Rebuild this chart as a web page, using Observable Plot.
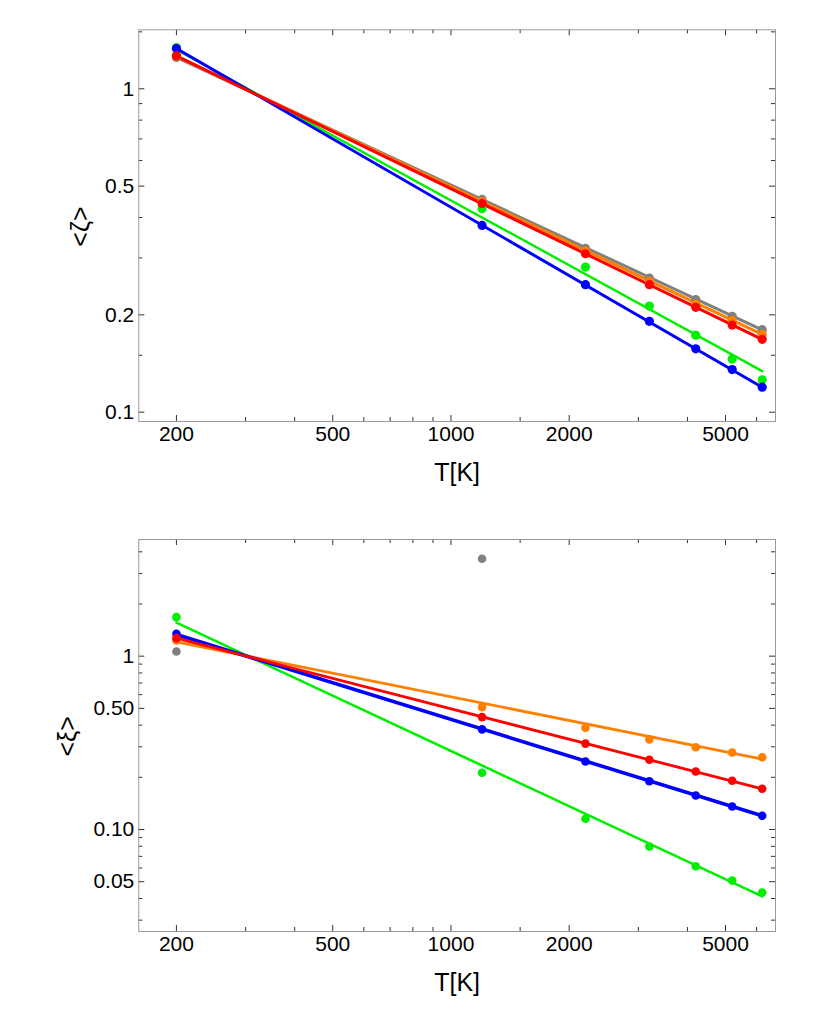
<!DOCTYPE html>
<html><head><meta charset="utf-8">
<script src="https://cdn.jsdelivr.net/npm/d3@7"></script>
<script src="https://cdn.jsdelivr.net/npm/@observablehq/plot@0.6"></script>
<style>
body{margin:0;background:#fff;font-family:"Liberation Sans",Arial,sans-serif}
svg{display:block}
</style>
</head><body><div id="c"></div>
<script>
// ---- data ----
const T = [200, 1200, 2200, 3200, 4200, 5200, 6200];
const fitT = [200, 6200];

// top panel <ζ>
const zetaGray   = [1.25, 0.455, 0.321, 0.260, 0.223, 0.198, 0.180];
const zetaOrange = [1.26, 0.448, 0.315, 0.254, 0.216, 0.192, 0.174];
const zetaRed    = [1.265, 0.442, 0.309, 0.248, 0.211, 0.186, 0.168];
const zetaGreen  = [1.34, 0.426, 0.281, 0.213, 0.173, 0.146, 0.126];
const zetaBlue   = [1.332, 0.378, 0.248, 0.191, 0.157, 0.1355, 0.1195];
const zetaFitGray   = [1.251, 0.1798];
const zetaFitOrange = [1.26, 0.174];
const zetaFitRed    = [1.265, 0.168];
const zetaFitGreen  = [1.32, 0.134];
const zetaFitBlue   = [1.332, 0.1195];

// bottom panel <ξ>
const xiGrayT  = [200, 1200];
const xiGray   = [1.064, 3.65];
const xiOrange = [1.232, 0.508, 0.386, 0.331, 0.2985, 0.278, 0.261];
const xiRed    = [1.27, 0.445, 0.313, 0.2525, 0.216, 0.191, 0.1717];
const xiBlue   = [1.347, 0.378, 0.247, 0.190, 0.157, 0.1357, 0.120];
const xiGreen  = [1.679, 0.2124, 0.1153, 0.0798, 0.0614, 0.0508, 0.0433];
const xiFitOrange = [1.21, 0.2544];
const xiFitRed    = [1.27, 0.1717];
const xiFitBlue   = [1.334, 0.120];
const xiFitGreen  = [1.56, 0.0411];

// ticks
const xMajor = [200, 500, 1000, 2000, 5000];
const xMajorLabels = ["200", "500", "1000", "2000", "5000"];
const xMinor = [300, 400, 600, 700, 800, 900, 1500, 3000, 4000, 6000];
const zetaMajor = [1, 0.5, 0.2, 0.1];
const zetaMajorLabels = ["1", "0.5", "0.2", "0.1"];
const zetaMinor = [1.5, 0.9, 0.8, 0.7, 0.6, 0.4, 0.3, 0.15];
const xiMajor = [1, 0.5, 0.1, 0.05];
const xiMajorLabels = ["1", "0.50", "0.10", "0.05"];
const xiMinor = [4, 3, 2, 0.9, 0.8, 0.7, 0.6, 0.4, 0.3, 0.2, 0.09, 0.08, 0.07, 0.06, 0.04, 0.03];

const COL = {gray: "#808080", orange: "#ff8000", red: "#ff0000", green: "#00ee00", blue: "#0000ff"};

function rows(xs, ys) { return xs.map((x, i) => ({T: x, v: ys[i]})); }

function panel(o) {
  const W = 830, ml = 138.3, mr = 55;
  const fw = W - ml - mr, fh = o.height - o.mt - o.mb;
  const tickC = "#333";
  const marks = [
    Plot.ruleX(xMajor, {insetTop: fh - 6, stroke: tickC}),
    Plot.ruleX(xMinor, {insetTop: fh - 4, stroke: tickC}),
    Plot.ruleX(xMajor, {insetBottom: fh - 6, stroke: tickC}),
    Plot.ruleX(xMinor, {insetBottom: fh - 4, stroke: tickC}),
    Plot.ruleY(o.yMajor, {insetRight: fw - 6, stroke: tickC}),
    Plot.ruleY(o.yMinor, {insetRight: fw - 4, stroke: tickC}),
    Plot.ruleY(o.yMajor, {insetLeft: fw - 6, stroke: tickC}),
    Plot.ruleY(o.yMinor, {insetLeft: fw - 4, stroke: tickC}),
    Plot.frame({stroke: "#999"}),
    Plot.text(xMajor, {x: d => d, text: (d, i) => xMajorLabels[i], frameAnchor: "bottom", dy: 19, fontSize: 21, fill: "#000"}),
    Plot.text(o.yMajor, {y: d => d, text: (d, i) => o.yLabels[i], frameAnchor: "left", textAnchor: "end", dx: -4.5, fontSize: 21, fill: "#000"}),
    Plot.text(["T[K]"], {text: d => d, frameAnchor: "bottom", dy: 59, fontSize: 25, fill: "#000"}),
    Plot.text([o.ylabel], {text: d => d, frameAnchor: "left", dx: -o.ylabelOff, dy: 21, rotate: -90, fontSize: 25, fill: "#000"})
  ];
  for (const f of o.fits) marks.push(Plot.line(rows(fitT, f.v), {x: "T", y: "v", stroke: f.c, strokeWidth: f.w}));
  for (const s of o.series) marks.push(Plot.dot(rows(s.t || T, s.v), {x: "T", y: "v", r: o.r, fill: s.c, stroke: "none"}));
  return Plot.plot({
    width: W, height: o.height,
    marginLeft: ml, marginRight: mr, marginTop: o.mt, marginBottom: o.mb,
    style: {fontFamily: "'Liberation Sans', Arial, sans-serif", background: "#fff", overflow: "visible"},
    x: {type: "log", domain: [160.4, 6703], axis: null},
    y: {type: "log", domain: o.yDomain, axis: null},
    marks
  });
}

const topPanel = panel({
  height: 510, mt: 29.3, mb: 89, yDomain: [0.0936, 1.522],
  yMajor: zetaMajor, yLabels: zetaMajorLabels, yMinor: zetaMinor,
  ylabel: "<ζ>", ylabelOff: 58.3, r: 4.6,
  fits: [
    {v: zetaFitGray, c: COL.gray, w: 3},
    {v: zetaFitOrange, c: COL.orange, w: 3},
    {v: zetaFitGreen, c: COL.green, w: 2.4},
    {v: zetaFitBlue, c: COL.blue, w: 3},
    {v: zetaFitRed, c: COL.red, w: 3}
  ],
  series: [
    {v: zetaGray, c: COL.gray},
    {v: zetaOrange, c: COL.orange},
    {v: zetaGreen, c: COL.green},
    {v: zetaBlue, c: COL.blue},
    {v: zetaRed, c: COL.red}
  ]
});

const bottomPanel = panel({
  height: 524, mt: 29, mb: 103, yDomain: [0.0258, 4.71],
  yMajor: xiMajor, yLabels: xiMajorLabels, yMinor: xiMinor,
  ylabel: "<ξ>", ylabelOff: 70.8, r: 4.3,
  fits: [
    {v: xiFitOrange, c: COL.orange, w: 2.8},
    {v: xiFitGreen, c: COL.green, w: 2.6},
    {v: xiFitBlue, c: COL.blue, w: 3.6},
    {v: xiFitRed, c: COL.red, w: 2.8}
  ],
  series: [
    {t: xiGrayT, v: xiGray, c: COL.gray},
    {v: xiOrange, c: COL.orange},
    {v: xiGreen, c: COL.green},
    {v: xiBlue, c: COL.blue},
    {v: xiRed, c: COL.red}
  ]
});

document.getElementById("c").append(topPanel, bottomPanel);
</script>
</body></html>
